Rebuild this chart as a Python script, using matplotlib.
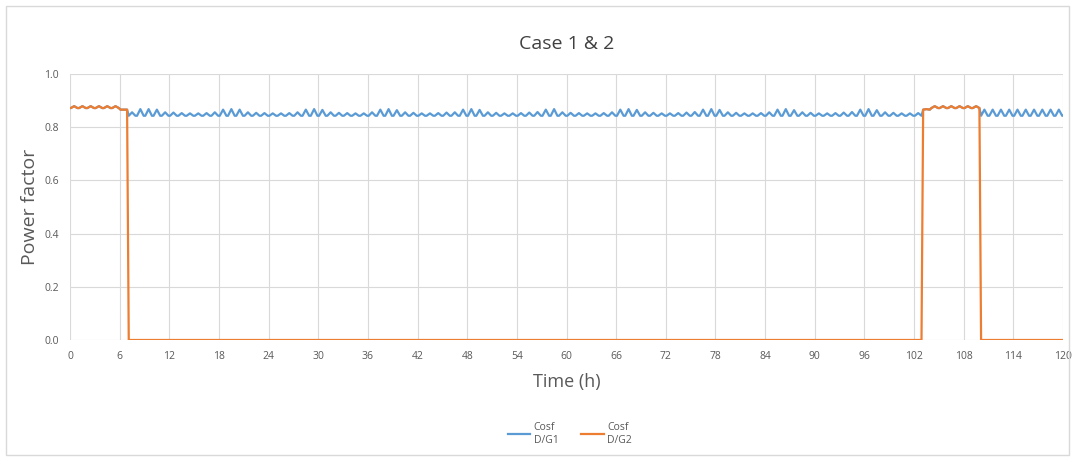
import matplotlib
matplotlib.use("Agg")
import matplotlib.pyplot as plt
from matplotlib.patches import Rectangle

plt.rcParams['font.family'] = ['Open Sans', 'DejaVu Sans']

# hourly readings: low at the start/end of each hour, peak in the middle
hours = list(range(120))

blue_peak = [
    0.879, 0.879, 0.879, 0.879, 0.879, 0.879, 0.866, 0.856, 0.868, 0.868, 0.866, 0.856,
    0.855, 0.853, 0.852, 0.852, 0.853, 0.856, 0.866, 0.868, 0.866, 0.856, 0.854, 0.853,
    0.852, 0.852, 0.853, 0.856, 0.866, 0.868, 0.865, 0.856, 0.854, 0.853, 0.852, 0.852,
    0.856, 0.866, 0.868, 0.864, 0.856, 0.854, 0.852, 0.852, 0.853, 0.855, 0.856, 0.866,
    0.868, 0.865, 0.856, 0.854, 0.852, 0.852, 0.853, 0.855, 0.857, 0.866, 0.868, 0.856,
    0.854, 0.853, 0.852, 0.852, 0.853, 0.856, 0.866, 0.868, 0.865, 0.856, 0.854, 0.852,
    0.852, 0.853, 0.855, 0.857, 0.866, 0.868, 0.865, 0.856, 0.854, 0.852, 0.852, 0.853,
    0.856, 0.866, 0.868, 0.864, 0.856, 0.854, 0.852, 0.852, 0.853, 0.855, 0.857, 0.866,
    0.868, 0.864, 0.856, 0.854, 0.852, 0.852, 0.853, 0.868, 0.879, 0.879, 0.879, 0.879,
    0.879, 0.879, 0.866, 0.866, 0.866, 0.866, 0.866, 0.866, 0.866, 0.866, 0.866, 0.866,
]
blue_low = [0.872] * 6 + [0.866] + [0.843] * 96 + [0.866] + [0.872] * 6 + [0.843] * 10

orange_peak = [0.879] * 6 + [0.866] + [0.0] * 96 + [0.868] + [0.879] * 6 + [0.0] * 10
orange_low = [0.872] * 6 + [0.866] + [0.0] * 96 + [0.866] + [0.872] * 6 + [0.0] * 10

x_ticks = list(range(0, 121, 6))
y_ticks = [0.0, 0.2, 0.4, 0.6, 0.8, 1.0]


def wiggle(lows, peaks):
    xs, ys = [], []
    for h, lo, pk in zip(hours, lows, peaks):
        xs += [h + 0.1, h + 0.5, h + 0.9]
        ys += [lo, pk, lo]
    xs = [0] + xs + [120]
    ys = [lows[0]] + ys + [lows[-1]]
    return xs, ys


fig = plt.figure(figsize=(10.75, 4.59), dpi=100)
fig.patches.append(Rectangle((0.006, 0.008), 0.988, 0.98, transform=fig.transFigure,
                             fill=False, edgecolor='#d9d9d9', linewidth=1))
ax = fig.add_axes([70 / 1075, 1 - 340 / 459, 993 / 1075, 266 / 459])

bx, by = wiggle(blue_low, blue_peak)
ox, oy = wiggle(orange_low, orange_peak)
ax.plot(bx, by, color='#5B9BD5', linewidth=1.6, label='Cosf\nD/G1')
ax.plot(ox, oy, color='#ED7D31', linewidth=1.6, label='Cosf\nD/G2')

ax.set_xlim(0, 120)
ax.set_ylim(0, 1.0)
ax.set_xticks(x_ticks)
ax.set_yticks(y_ticks)
ax.set_yticklabels([f'{v:.1f}' for v in y_ticks])
ax.grid(True, color='#d9d9d9', linewidth=0.8)
ax.set_axisbelow(True)
for s in ax.spines.values():
    s.set_visible(False)
ax.tick_params(length=0, labelsize=7.5, colors='#595959', pad=8)

ax.set_title('Case 1 & 2', fontsize=14, color='#404040', pad=18)
ax.set_xlabel('Time (h)', fontsize=13, color='#595959', labelpad=8)
ax.set_ylabel('Power factor', fontsize=14, color='#595959', labelpad=4)

fig.legend(loc='center', bbox_to_anchor=(0.53, 0.055), ncol=2, frameon=False,
           fontsize=7.5, handlelength=2.2, columnspacing=2.2, handletextpad=0.3,
           labelcolor='#595959')

fig.savefig('out.png', dpi=100)
